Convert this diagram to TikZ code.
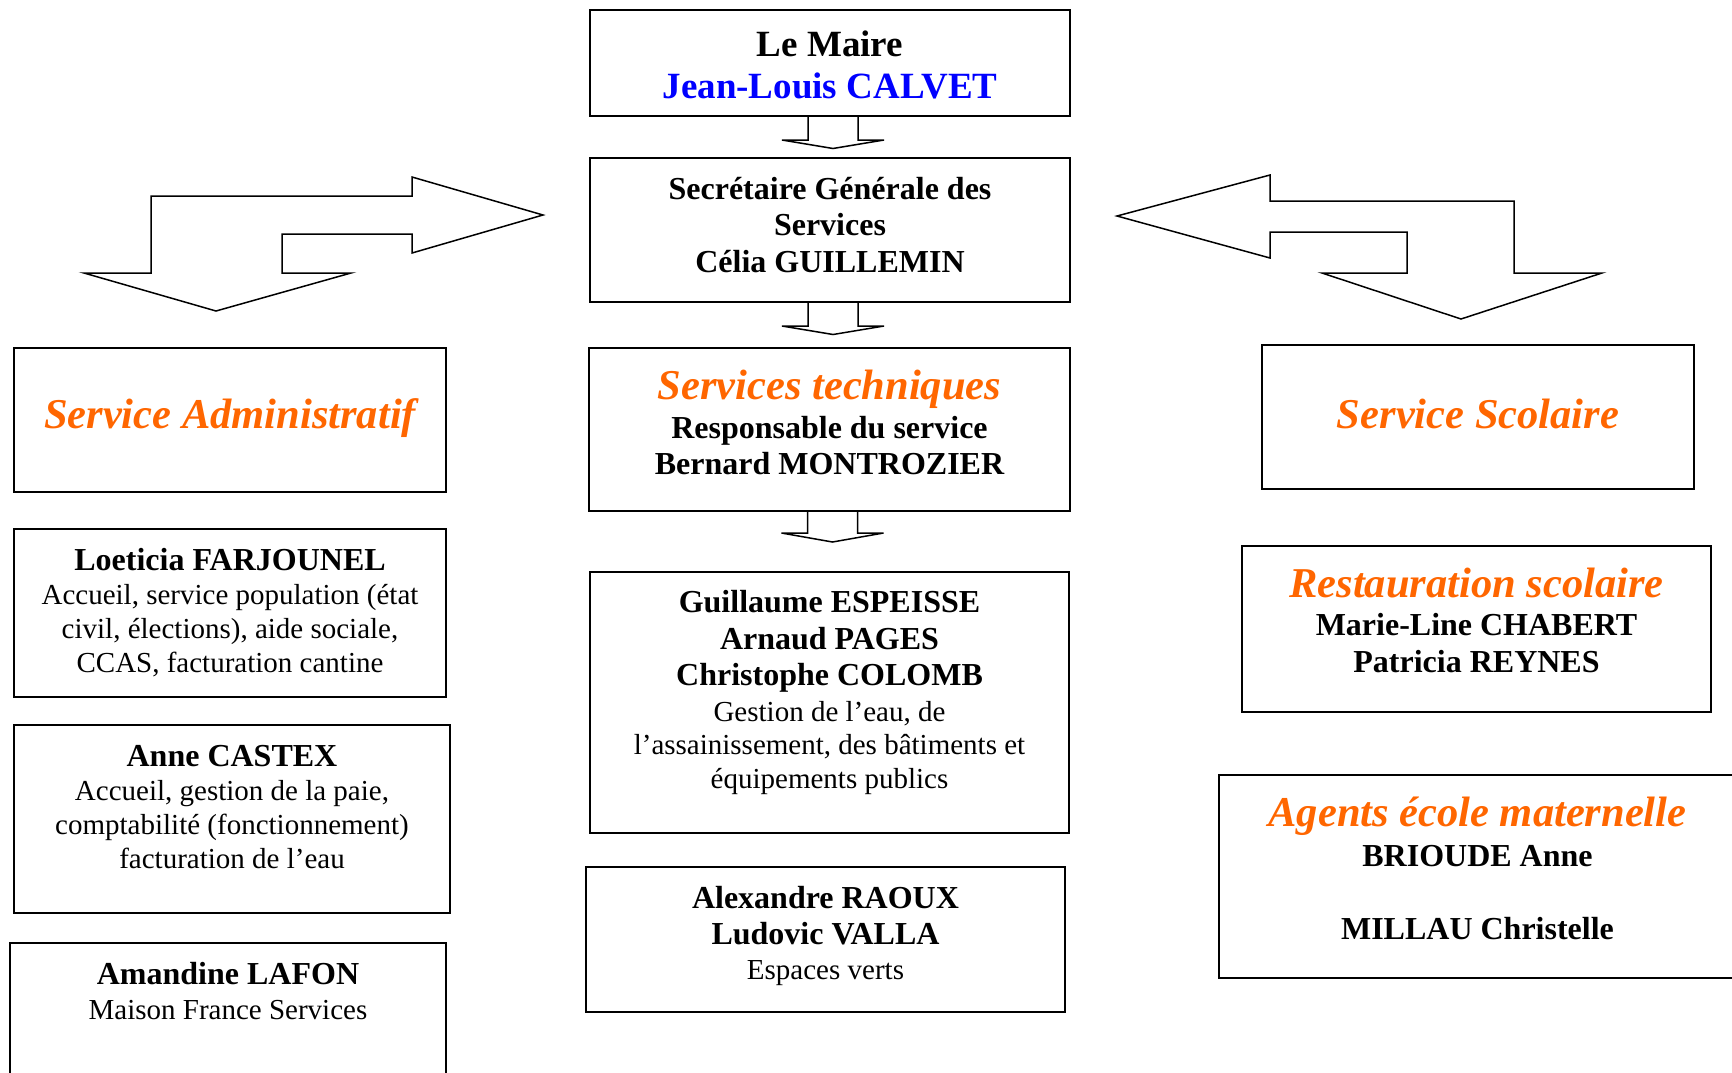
\documentclass[tikz,border=0pt]{standalone}
\usepackage{fontspec}
\setmainfont{Liberation Serif}
\usetikzlibrary{positioning}

\definecolor{orangeS}{HTML}{FF6600}
\definecolor{blueM}{HTML}{0000FF}

\newcommand{\titre}[1]{{\fontsize{42.5}{48}\selectfont\bfseries\itshape\color{orangeS}#1}}
\newcommand{\nom}[1]{{\fontsize{32}{36.5}\selectfont\bfseries #1}}

\tikzset{
  box/.style={draw, line width=1.8pt, inner sep=0pt, outer sep=0pt, anchor=north west},
  txt/.style={align=center, inner sep=0pt},
  mairefont/.style={font=\fontsize{37}{42.5}\selectfont\bfseries},
  namefont/.style={font=\fontsize{32}{36.5}\selectfont\bfseries},
  bodyfont/.style={font=\fontsize{29}{34}\selectfont},
  arrowline/.style={line width=1.5pt, line join=miter},
}

\begin{document}
\begin{tikzpicture}[x=1pt, y=-1pt]
    \useasboundingbox (0,0) rectangle (1732,1072);

    % centre column
    \node[box, minimum width=480pt, minimum height=106pt] (maire) at (590,10) {};
    \node[txt, mairefont, below=20.5pt of maire.north] (maireT)
      {Le Maire\\{\color{blueM}Jean-Louis CALVET}};
    \node[box, minimum width=480pt, minimum height=144pt] (secr) at (590,158) {};
    \node[txt, namefont, below=18.8pt of secr.north] (secrT)
      {Secrétaire Générale des\\Services\\Célia GUILLEMIN};
    \node[box, minimum width=481pt, minimum height=163pt] (tech) at (589,348) {};
    \node[txt, namefont, font=\fontsize{32}{36}\selectfont\bfseries, below=21.7pt of tech.north] (techT)
      {\titre{Services techniques}\\[3pt]Responsable du service\\Bernard MONTROZIER};
    \node[box, minimum width=479pt, minimum height=261pt] (eau) at (590,572) {};
    \node[txt, font=\fontsize{29}{33.5}\selectfont, below=18pt of eau.north] (eauT)
      {\nom{Guillaume ESPEISSE}\\[3.5pt]\nom{Arnaud PAGES}\\[2.5pt]\nom{Christophe COLOMB}\\[2.5pt]%
       Gestion de l’eau, de\\l’assainissement, des bâtiments et\\équipements publics};
    \node[box, minimum width=479pt, minimum height=145pt] (verts) at (586,867) {};
    \node[txt, font=\fontsize{29}{35}\selectfont, below=19.2pt of verts.north] (vertsT)
      {\nom{Alexandre RAOUX}\\[1pt]\nom{Ludovic VALLA}\\Espaces verts};

    % administratif
    \node[box, minimum width=432pt, minimum height=144pt] (admin) at (14,348) {};
    \node[txt, below=50.7pt of admin.north] (adminT) {\titre{Service Administratif}};
    \node[box, minimum width=432pt, minimum height=168pt] (accueil) at (14,529) {};
    \node[txt, bodyfont, below=19.2pt of accueil.north] (accueilT)
      {\nom{Loeticia FARJOUNEL}\\Accueil, service population (état\\civil, élections), aide sociale,\\CCAS, facturation cantine};
    \node[box, minimum width=436pt, minimum height=188pt] (paie) at (14,725) {};
    \node[txt, font=\fontsize{29}{34}\selectfont, below=19.8pt of paie.north] (paieT)
      {\nom{Anne CASTEX}\\Accueil, gestion de la paie,\\comptabilité (fonctionnement)\\facturation de l’eau};
    \node[box, minimum width=436pt, minimum height=140pt] (mfs) at (10,943) {};
    \node[txt, font=\fontsize{29}{35}\selectfont, below=19.2pt of mfs.north] (mfsT)
      {\nom{Amandine LAFON}\\Maison France Services};

    % scolaire
    \node[box, minimum width=432pt, minimum height=144pt] (scol) at (1262,345) {};
    \node[txt, below=53.7pt of scol.north] (scolT) {\titre{Service Scolaire}};
    \node[box, minimum width=469pt, minimum height=166pt] (resto) at (1242,546) {};
    \node[txt, namefont, font=\fontsize{32}{37}\selectfont\bfseries, below=21.7pt of resto.north] (restoT)
      {\titre{Restauration scolaire}\\[1pt]Marie-Line CHABERT\\Patricia REYNES};
    \node[box, minimum width=517pt, minimum height=203pt] (ecole) at (1219,775) {};
    \node[txt, namefont, below=21.5pt of ecole.north] (ecoleT)
      {\titre{Agents école maternelle}\\[3.5pt]BRIOUDE Anne\\[36.5pt]MILLAU Christelle};

    % small arrows down the centre
    \draw[arrowline] ([xshift=-22pt]maire.south) -- ++(0,24) -- ++(-26,0) -- ++(51,8.5) -- ++(51,-8.5) -- ++(-26,0) -- ++(0,-24);
    \draw[arrowline] ([xshift=-22pt]secr.south) -- ++(0,24) -- ++(-26,0) -- ++(51,8.5) -- ++(51,-8.5) -- ++(-26,0) -- ++(0,-24);
    \draw[arrowline] ([xshift=-22pt]tech.south) -- ++(0,22) -- ++(-26,0) -- ++(51,9) -- ++(51,-9) -- ++(-26,0) -- ++(0,-22);

    % bent arrows
    \draw[arrowline] (151,196) -- (412,196) -- (412,177) -- (543,215) -- (412,253) -- (412,234)
      -- (282,234) -- (282,273) -- (351,273) -- (216,311) -- (84,273) -- (151,273) -- cycle;
    \draw[arrowline] (1117,216) -- (1270,175) -- (1270,201) -- (1514,201) -- (1514,273) -- (1602,273)
      -- (1461,319) -- (1322,273) -- (1407,273) -- (1407,232) -- (1270,232) -- (1270,258) -- cycle;
\end{tikzpicture}
\end{document}
